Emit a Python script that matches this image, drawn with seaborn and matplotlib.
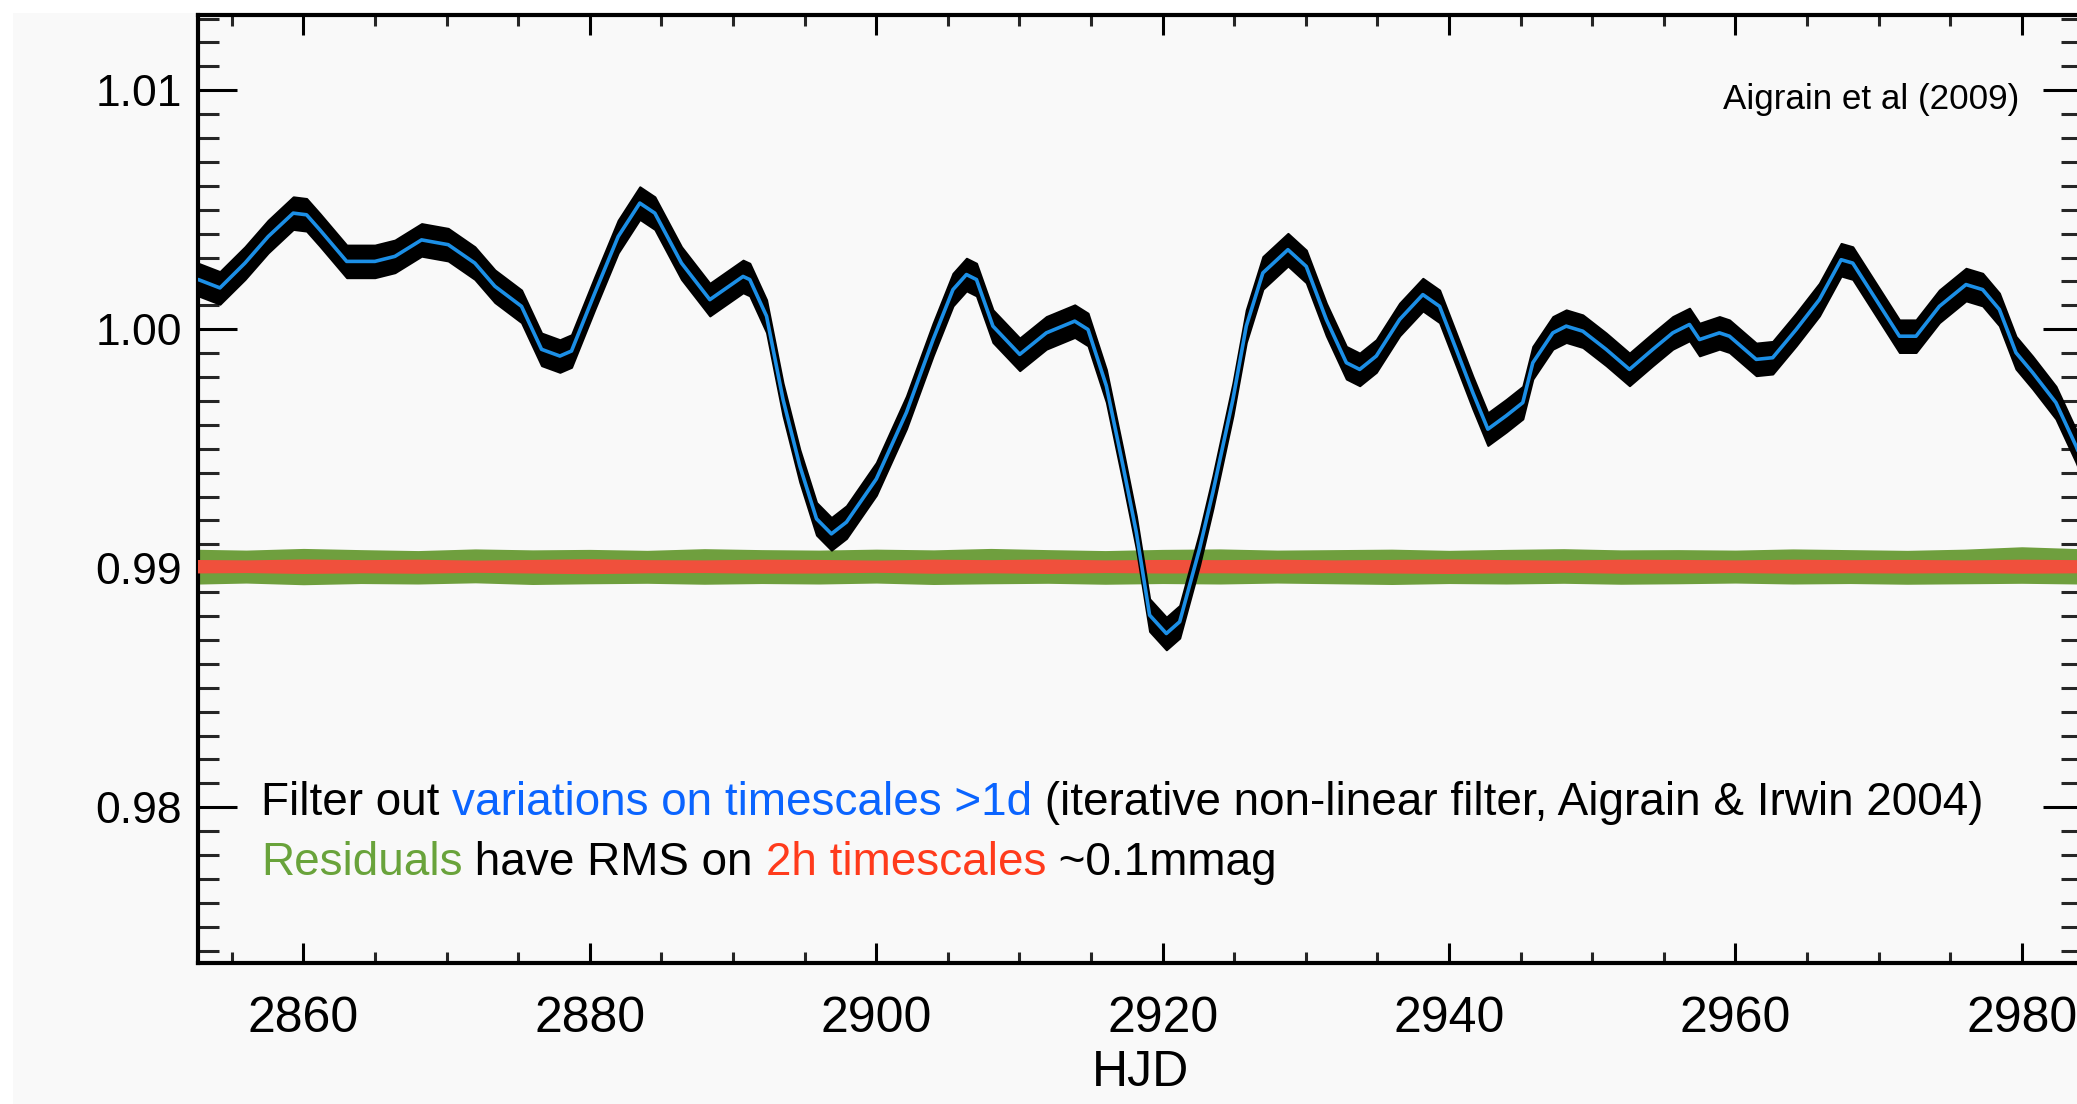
import matplotlib
matplotlib.use("Agg")
import matplotlib.pyplot as plt
import seaborn as sns
import pandas as pd
from matplotlib.patches import Rectangle
from matplotlib.ticker import FixedLocator, MultipleLocator

# ---------------- data ----------------
hjd = [2852.66, 2854.17, 2855.92, 2857.54, 2859.29, 2860.22, 2861.15, 2863.02, 2864.99, 2866.39,
       2868.25, 2870.11, 2871.97, 2873.37, 2875.23, 2876.63, 2877.91, 2878.72, 2880.35, 2881.98,
       2883.49, 2884.54, 2886.40, 2888.38, 2890.70, 2891.17, 2892.34, 2893.49, 2894.66, 2895.83,
       2896.87, 2897.92, 2900.01, 2902.11, 2903.97, 2905.36, 2906.30, 2907.00, 2908.15, 2910.02,
       2911.88, 2913.86, 2914.79, 2916.07, 2917.23, 2918.16, 2919.09, 2920.26, 2921.19, 2922.58,
       2923.51, 2924.91, 2925.84, 2927.00, 2928.75, 2930.03, 2931.43, 2932.83, 2933.76, 2934.92,
       2936.55, 2938.17, 2939.34, 2940.50, 2941.66, 2942.71, 2943.99, 2945.15, 2945.85, 2947.25,
       2948.18, 2949.34, 2950.97, 2952.60, 2954.23, 2955.62, 2956.79, 2957.49, 2958.88, 2959.58,
       2961.45, 2962.60, 2964.24, 2965.86, 2967.38, 2968.19, 2969.82, 2971.45, 2972.61, 2974.24,
       2976.10, 2977.26, 2978.43, 2979.59, 2980.75, 2982.38, 2983.78, 2984.20]
smooth_flux = [1.00208, 1.00173, 1.00277, 1.00388, 1.00486, 1.00479, 1.00416, 1.00284, 1.00284, 1.00305,
               1.00374, 1.00354, 1.00277, 1.00180, 1.00096, 0.99916, 0.99888, 0.99909, 1.00152, 1.00388,
               1.00528, 1.00486, 1.00277, 1.00124, 1.00221, 1.00208, 1.00055, 0.99707, 0.99429, 0.99207,
               0.99144, 0.99193, 0.99374, 0.99652, 0.99957, 1.00166, 1.00229, 1.00208, 1.00013, 0.99895,
               0.99985, 1.00034, 0.99999, 0.99763, 0.99429, 0.99151, 0.98804, 0.98727, 0.98776, 0.99082,
               0.99318, 0.99707, 1.00013, 1.00236, 1.00333, 1.00263, 1.00041, 0.99860, 0.99832, 0.99888,
               1.00041, 1.00145, 1.00096, 0.99916, 0.99735, 0.99582, 0.99638, 0.99693, 0.99860, 0.99985,
               1.00013, 0.99992, 0.99916, 0.99832, 0.99916, 0.99985, 1.00020, 0.99957, 0.99985, 0.99971,
               0.99874, 0.99881, 0.99999, 1.00124, 1.00291, 1.00277, 1.00124, 0.99971, 0.99971, 1.00096,
               1.00187, 1.00166, 1.00083, 0.99902, 0.99819, 0.99693, 0.99512, 0.99450]
raw_scatter = 0.00068   # half-width of the black raw-data band

resid_hjd = [2852, 2856, 2860, 2864, 2868, 2872, 2876, 2880, 2884, 2888, 2892, 2896,
             2900, 2904, 2908, 2912, 2916, 2920, 2924, 2928, 2932, 2936, 2940, 2944,
             2948, 2952, 2956, 2960, 2964, 2968, 2972, 2976, 2980, 2984]
green_upper = [0.99080, 0.99076, 0.99083, 0.99078, 0.99074, 0.99081, 0.99077, 0.99079, 0.99075,
               0.99082, 0.99078, 0.99076, 0.99080, 0.99077, 0.99083, 0.99078, 0.99074, 0.99079,
               0.99081, 0.99076, 0.99078, 0.99080, 0.99075, 0.99079, 0.99082, 0.99077, 0.99078,
               0.99076, 0.99081, 0.99078, 0.99075, 0.99080, 0.99090, 0.99082]
green_lower = [0.98933, 0.98938, 0.98931, 0.98936, 0.98934, 0.98939, 0.98932, 0.98935, 0.98937,
               0.98933, 0.98936, 0.98934, 0.98938, 0.98932, 0.98935, 0.98937, 0.98933, 0.98936,
               0.98934, 0.98938, 0.98935, 0.98932, 0.98936, 0.98934, 0.98937, 0.98933, 0.98935,
               0.98938, 0.98934, 0.98936, 0.98933, 0.98935, 0.98937, 0.98934]
red_upper = [0.99037, 0.99035, 0.99039, 0.99036, 0.99038, 0.99034, 0.99037, 0.99040, 0.99036,
             0.99035, 0.99038, 0.99037, 0.99034, 0.99038, 0.99036, 0.99039, 0.99035, 0.99037,
             0.99036, 0.99038, 0.99035, 0.99037, 0.99039, 0.99036, 0.99034, 0.99038, 0.99037,
             0.99035, 0.99038, 0.99036, 0.99037, 0.99035, 0.99038, 0.99036]
red_lower = [0.98980, 0.98982, 0.98978, 0.98981, 0.98979, 0.98983, 0.98980, 0.98977, 0.98981,
             0.98982, 0.98979, 0.98980, 0.98983, 0.98979, 0.98981, 0.98978, 0.98982, 0.98980,
             0.98981, 0.98979, 0.98982, 0.98980, 0.98978, 0.98981, 0.98983, 0.98979, 0.98980,
             0.98982, 0.98979, 0.98981, 0.98980, 0.98982, 0.98979, 0.98981]

x_major_ticks = [2860, 2880, 2900, 2920, 2940, 2960, 2980]
x_tick_labels = ["2860", "2880", "2900", "2920", "2940", "2960", "2980"]
y_major_ticks = [0.98, 0.99, 1.00, 1.01]
y_tick_labels = ["0.98", "0.99", "1.00", "1.01"]
x_label = "HJD"
credit = "Aigrain et al (2009)"
line1 = [("Filter out ", "#000000"),
         ("variations on timescales >1d", "#0a64ff"),
         (" (iterative non-linear filter, Aigrain & Irwin 2004)", "#000000")]
line2 = [("Residuals", "#69a33b"),
         (" have RMS on ", "#000000"),
         ("2h timescales", "#ff3b1c"),
         (" ~0.1mmag", "#000000")]

# ---------------- figure ----------------
W, H = 2077, 1104
sns.set_theme(style="ticks")
plt.rcParams['font.family'] = ['Liberation Sans', 'DejaVu Sans']

fig = plt.figure(figsize=(W / 100, H / 100), dpi=100, facecolor="white")
fig.patches.append(Rectangle((13 / W, 0), 1 - 13 / W, 1 - 13 / H, transform=fig.transFigure,
                             facecolor="#f9f9f9", edgecolor="none", zorder=-10))

left, right = 198.3 / W, 2082 / W
bottom, top = 1 - 963.3 / H, 1 - 15 / H
ax = fig.add_axes([left, bottom, right - left, top - bottom])
ax.set_facecolor("#f9f9f9")

df = pd.DataFrame({"hjd": hjd, "flux": smooth_flux})
dfr = pd.DataFrame({"hjd": resid_hjd, "gu": green_upper, "gl": green_lower,
                    "ru": red_upper, "rl": red_lower})

# residuals
ax.fill_between(dfr["hjd"], dfr["gl"], dfr["gu"], color="#6f9f3e", lw=0, zorder=2)
ax.fill_between(dfr["hjd"], dfr["rl"], dfr["ru"], color="#f0503c", lw=0, zorder=3)
# raw light curve band
ax.fill_between(df["hjd"], df["flux"] - raw_scatter, df["flux"] + raw_scatter,
                color="black", lw=1.5, edgecolor="black", zorder=4)
# smoothed curve
sns.lineplot(data=df, x="hjd", y="flux", ax=ax, color="#1c8fe6", lw=2.6, zorder=5,
             estimator=None, sort=False)

ax.set_xlim(2852.66, 2984.2)
ax.set_ylim(0.97347, 1.01315)

ax.xaxis.set_major_locator(FixedLocator(x_major_ticks))
ax.set_xticklabels(x_tick_labels)
ax.xaxis.set_minor_locator(MultipleLocator(5))
ax.yaxis.set_major_locator(FixedLocator(y_major_ticks))
ax.set_yticklabels(y_tick_labels)
ax.yaxis.set_minor_locator(MultipleLocator(0.001))

ax.tick_params(axis='x', which='major', direction='in', length=14.5, width=2.2,
               top=True, bottom=True, pad=23.5, labelsize=36, colors="black")
ax.tick_params(axis='x', which='minor', direction='in', length=8, width=2.2,
               top=True, bottom=True)
ax.tick_params(axis='y', which='major', direction='in', length=28, width=2.2,
               left=True, right=True, pad=12, labelsize=32, colors="black")
ax.tick_params(axis='y', which='minor', direction='in', length=15, width=2.2,
               left=True, right=True)
for s in ax.spines.values():
    s.set_linewidth(3.0)
    s.set_color("black")
    s.set_visible(True)

ax.set_xlabel(x_label, fontsize=36, labelpad=6, color="black")
ax.set_ylabel("")

# ---------------- annotations ----------------
fam = ['Liberation Sans', 'DejaVu Sans']
fig.canvas.draw()
renderer = fig.canvas.get_renderer()


def text_width(s, size):
    t1 = fig.text(0, 0, s + "I", fontsize=size, family=fam)
    t2 = fig.text(0, 0, "I", fontsize=size, family=fam)
    w = t1.get_window_extent(renderer).width - t2.get_window_extent(renderer).width
    t1.remove()
    t2.remove()
    return w


# size the caption so that line 1 spans the same width as in the reference
full1 = "".join(s for s, _ in line1)
body_size = 31 * 1720 / text_width(full1, 31)


def colored_line(parts, x0, baseline, size):
    prefix = ""
    for s, c in parts:
        x = x0 + (text_width(prefix, size) if prefix else 0.0)
        fig.text(x / W, 1 - baseline / H, s, color=c, va="baseline", ha="left",
                 fontsize=size, family=fam)
        prefix += s


colored_line(line1, 261, 815, body_size)
colored_line(line2, 261, 875, body_size)

credit_size = 29 * 296 / text_width(credit, 29)
fig.text(2019 / W, 1 - 108.5 / H, credit, ha="right", va="baseline", color="#000000",
         fontsize=credit_size, family=fam)

fig.savefig("out.png", dpi=100, facecolor="white")
